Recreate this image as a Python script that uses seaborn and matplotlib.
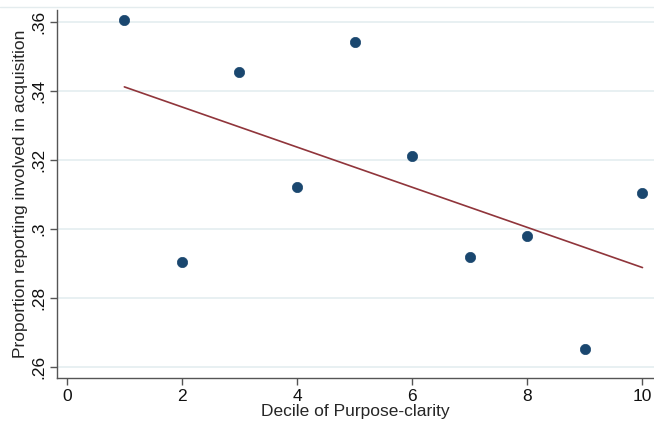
import numpy as np
import pandas as pd
import matplotlib
matplotlib.use("Agg")
import matplotlib.pyplot as plt
import seaborn as sns
from matplotlib.lines import Line2D

# Decile means
deciles = [1, 2, 3, 4, 5, 6, 7, 8, 9, 10]
proportions = [0.3606, 0.2904, 0.3455, 0.3122, 0.3542, 0.3212, 0.2919, 0.2980, 0.2652, 0.3104]
x_ticks = [0, 2, 4, 6, 8, 10]
y_ticks = [0.26, 0.28, 0.30, 0.32, 0.34, 0.36]
y_tick_labels = [".26", ".28", ".3", ".32", ".34", ".36"]

df = pd.DataFrame({"decile": deciles, "prop": proportions})

sns.set_theme(style="white")
plt.rcParams['font.family'] = ['Liberation Sans', 'DejaVu Sans']

fig = plt.figure(figsize=(6.54, 4.30), dpi=100)
ax = fig.add_axes([57 / 654, 1 - 378 / 430, 1 - 57 / 654, (378 - 10) / 430])

grid_col = "#e6eff1"
for yt in y_ticks:
    ax.axhline(yt, color=grid_col, linewidth=1.3, zorder=0)

# Linear fit line over the observed range
slope, intercept = np.polyfit(df["decile"], df["prop"], 1)
fit = pd.DataFrame({"decile": [min(deciles), max(deciles)]})
fit["prop"] = intercept + slope * fit["decile"]
sns.lineplot(data=fit, x="decile", y="prop", ax=ax, color="#90353b", linewidth=1.2, zorder=2)

sns.scatterplot(data=df, x="decile", y="prop", ax=ax, color="#1a476f", s=55,
                edgecolor="#1a476f", linewidth=0.5, zorder=3)

fs = 12.5
ax.set_xlim(-0.17, 10.2)
ax.set_ylim(0.2568, 0.3634)
ax.set_xticks(x_ticks)
ax.set_xticklabels([str(t) for t in x_ticks], fontsize=fs)
ax.set_yticks(y_ticks)
ax.set_yticklabels(y_tick_labels, fontsize=fs, rotation=90, va="center")

ax.set_xlabel("Decile of Purpose-clarity", fontsize=fs, labelpad=0)
ax.set_ylabel("Proportion reporting involved in acquisition", fontsize=fs, labelpad=2)

for side in ["top", "right"]:
    ax.spines[side].set_visible(False)
for side in ["left", "bottom"]:
    ax.spines[side].set_color("#555555")
    ax.spines[side].set_linewidth(1.0)
ax.tick_params(axis="both", which="both", length=5, width=1, color="#555555",
               direction="out", left=True, bottom=True, pad=3, labelcolor="#111111")

fig.add_artist(Line2D([0, 1], [1 - 7 / 430, 1 - 7 / 430], color="#e4ecee", linewidth=1.0))

fig.savefig("out.png", dpi=100, facecolor="white")
